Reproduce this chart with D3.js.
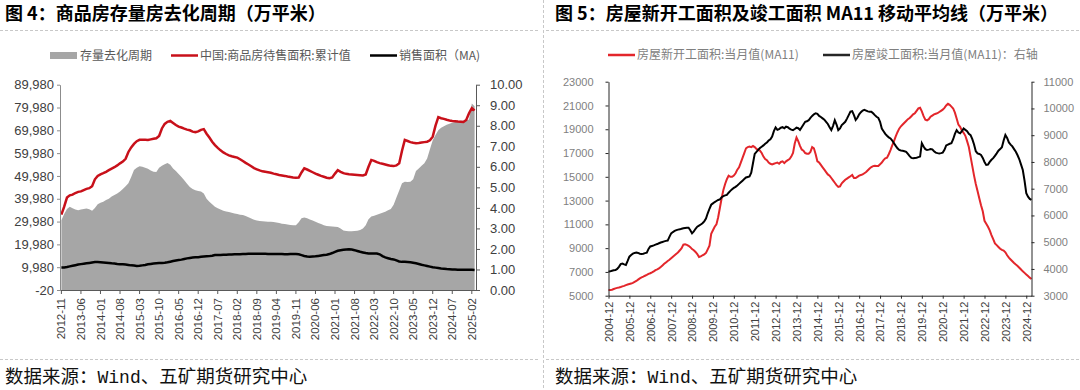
<!DOCTYPE html>
<html>
<head>
<meta charset="utf-8">
<script src="https://cdn.jsdelivr.net/npm/d3@7"></script>
<style>
    body { margin: 0; background: #fff; }
</style>
</head>
<body>
<div id="chart"></div>
<script>
'use strict';

// ---- 图4 data (monthly, from 2012-11) ----
var stockStart = '2012-11';
var stockTicks = ['2012-11', '2013-06', '2014-01', '2014-08', '2015-03', '2015-10', '2016-05', '2016-12',
    '2017-07', '2018-02', '2018-09', '2019-04', '2019-11', '2020-06', '2021-01', '2021-08', '2022-03',
    '2022-10', '2023-05', '2023-12', '2024-07', '2025-02'];
var stockLeftTicks = [-20, 9980, 19980, 29980, 39980, 49980, 59980, 69980, 79980, 89980];
var stockRightTicks = [0, 1, 2, 3, 4, 5, 6, 7, 8, 9, 10];

// 中国:商品房待售面积:累计值 (left axis)
var inventory = [
    33000, 36500,
    40500, 41500, 41800, 42500, 43000, 43200, 43800, 44300, 44600, 45500, 48500, 50000,
    50700, 51200, 51800, 52500, 53200, 53800, 54600, 55500, 56300, 57500, 60500, 62500,
    64000, 65200, 65800, 65800, 65800, 65700, 66000, 66300, 66500, 67500, 70800, 72800,
    73700, 74100, 73200, 72300, 71600, 71200, 70700, 70300, 70000, 69400, 69200, 69500,
    70200, 70500, 68500, 66800, 65000, 63500, 62300, 61200, 60300, 59600, 59000, 58600,
    58300, 58000, 57300, 56500, 55700, 55000, 54200, 53400, 52900, 52400, 52000, 51800,
    51600, 51400, 51000, 50700, 50400, 50200, 50000, 49700, 49500, 49300, 49200, 49300,
    51500, 53300, 52800, 52200, 51600, 51000, 50500, 50000, 49600, 49200, 49000, 49300,
    51000, 52500, 51800, 51200, 50900, 50700, 50600, 50500, 50400, 50300, 50200, 50600,
    54000, 57000, 56600, 56000, 55600, 55300, 55000, 54700, 54400, 54300, 54600, 55500,
    61000, 65800, 65300, 64800, 64500, 64300, 64400, 64600, 64800, 65000, 65600, 67200,
    72000, 75800, 75300, 75000, 74600, 74300, 74100, 74000, 73800, 73700, 73600, 74500,
    77500, 79700, 78700
];

// 存量去化周期 (right axis, area)
var cycle = [
    3.40, 3.70,
    3.95, 4.05, 3.98, 3.92, 3.89, 3.92, 3.95, 3.97, 3.93, 3.86, 4.00, 4.18,
    4.25, 4.30, 4.38, 4.45, 4.55, 4.63, 4.70, 4.80, 4.92, 5.05, 5.20, 5.50,
    5.85, 5.95, 6.03, 6.00, 5.95, 5.90, 5.82, 5.76, 5.75, 5.95, 6.05, 6.12,
    6.19, 6.10, 5.92, 5.80, 5.65, 5.50, 5.35, 5.18, 5.02, 4.92, 4.86, 4.82,
    4.80, 4.70, 4.45, 4.30, 4.18, 4.06, 3.98, 3.92, 3.86, 3.82, 3.80, 3.76,
    3.73, 3.70, 3.67, 3.65, 3.60, 3.54, 3.48, 3.42, 3.38, 3.36, 3.35, 3.34,
    3.33, 3.32, 3.31, 3.29, 3.26, 3.23, 3.21, 3.19, 3.17, 3.16, 3.16, 3.30,
    3.50, 3.53, 3.49, 3.44, 3.38, 3.32, 3.26, 3.21, 3.16, 3.12, 3.10, 3.09,
    3.08, 3.07, 3.00, 2.90, 2.87, 2.86, 2.86, 2.87, 2.88, 2.92, 3.00, 3.15,
    3.45, 3.58, 3.62, 3.66, 3.72, 3.76, 3.81, 3.88, 3.95, 4.15, 4.50, 4.85,
    5.20, 5.27, 5.26, 5.27, 5.40, 5.80, 5.92, 6.05, 6.18, 6.40, 6.85, 7.29,
    7.55, 7.78, 7.90, 7.98, 8.05, 8.10, 8.15, 8.18, 8.22, 8.24, 8.25, 8.26,
    8.30, 9.08, 8.95
];

// 销售面积（MA) (right axis)
var salesMA = [
    1.10, 1.10,
    1.12, 1.15, 1.18, 1.21, 1.24, 1.26, 1.28, 1.30, 1.32, 1.34, 1.36, 1.36,
    1.35, 1.34, 1.33, 1.32, 1.30, 1.29, 1.27, 1.26, 1.25, 1.24, 1.22, 1.20,
    1.19, 1.17, 1.18, 1.20, 1.22, 1.25, 1.27, 1.29, 1.30, 1.31, 1.32, 1.33,
    1.35, 1.38, 1.41, 1.44, 1.46, 1.48, 1.51, 1.54, 1.56, 1.58, 1.59, 1.60,
    1.62, 1.63, 1.64, 1.65, 1.67, 1.70, 1.71, 1.71, 1.72, 1.72, 1.73, 1.73,
    1.74, 1.74, 1.74, 1.75, 1.75, 1.76, 1.77, 1.77, 1.77, 1.76, 1.76, 1.76,
    1.75, 1.75, 1.75, 1.75, 1.75, 1.75, 1.74, 1.74, 1.75, 1.75, 1.75, 1.74,
    1.70, 1.66, 1.63, 1.62, 1.63, 1.64, 1.66, 1.68, 1.70, 1.72, 1.75, 1.80,
    1.86, 1.91, 1.94, 1.96, 1.97, 1.98, 1.97, 1.94, 1.90, 1.86, 1.83, 1.80,
    1.78, 1.78, 1.78, 1.78, 1.74, 1.65, 1.59, 1.55, 1.51, 1.49, 1.44, 1.39,
    1.37, 1.37, 1.36, 1.35, 1.33, 1.30, 1.27, 1.23, 1.20, 1.17, 1.14, 1.11,
    1.09, 1.07, 1.05, 1.04, 1.02, 1.01, 1.00, 1.00, 0.99, 0.99, 0.99, 0.99,
    0.99, 0.99, 0.98
];

// ---- 图5 data (monthly, from 2004-12) ----
var buildStart = '2004-12';
var buildTicks = ['2004-12', '2005-12', '2006-12', '2007-12', '2008-12', '2009-12', '2010-12', '2011-12',
    '2012-12', '2013-12', '2014-12', '2015-12', '2016-12', '2017-12', '2018-12', '2019-12', '2020-12',
    '2021-12', '2022-12', '2023-12', '2024-12'];
var buildLeftTicks = [5000, 7000, 9000, 11000, 13000, 15000, 17000, 19000, 21000, 23000];
var buildRightTicks = [3000, 4000, 5000, 6000, 7000, 8000, 9000, 10000, 11000];

// 房屋新开工面积:当月值(MA11) (left axis)
var newStarts = [
    5480,
    5470, 5500, 5560, 5620, 5660, 5690, 5730, 5780, 5830, 5890, 5940, 5980,
    6020, 6080, 6160, 6240, 6350, 6460, 6540, 6600, 6680, 6750, 6830, 6890,
    6960, 7050, 7150, 7220, 7300, 7420, 7550, 7680, 7800, 7920, 8020, 8150,
    8280, 8400, 8520, 8660, 8820, 9000, 9300, 9320, 9280, 9200, 9080, 8920,
    8820, 8680, 8500, 8250, 8300, 8400, 8480, 8600, 8900, 9200, 10200, 10500,
    10800, 11000, 11600, 12400, 13200, 13900, 14400, 14800, 15100, 15000, 15000, 15100,
    15300, 15600, 15800, 16200, 16600, 17000, 17400, 17500, 17550, 17500, 17600, 17500,
    17350, 17250, 17200, 17000, 16700, 16500, 16400, 16200, 16100, 16050, 16100, 16150,
    16200, 16100, 16250, 16300, 16150, 16300, 16400, 16500, 16700, 17000, 17800, 18300,
    18000, 17600, 17300, 17200, 17000, 16950, 16950, 17100, 17500, 17400, 16900, 16300,
    16200, 16000, 15800, 15600, 15400, 15200, 15100, 14900, 14700, 14500, 14300, 14150,
    14200, 14450, 14600, 14750, 14850, 14950, 15050, 15150, 14900, 14900, 15000, 15100,
    15150, 15200, 15300, 15400, 15550, 15700, 15820, 15900, 15920, 15900, 15910, 16050,
    16200, 16400, 16550, 16600, 16900, 17250, 17650, 18000, 18400, 18750, 19050, 19250,
    19400, 19550, 19700, 19850, 19950, 20100, 20250, 20350, 20550, 20750, 20800, 20500,
    20100, 19800, 19750, 19850, 20050, 20150, 20250, 20300, 20350, 20450, 20550, 20650,
    20800, 21000, 21150, 21050, 20900, 20750, 20400, 19900, 19400, 19200, 18900, 18700,
    18450, 18000, 17500, 16700, 15900, 15100, 14400, 13800, 13200, 12600, 12100, 11300,
    11050, 10800, 10500, 10100, 9750, 9400, 9250, 9100, 8950, 8850, 8800, 8650,
    8400, 8200, 8050, 7900, 7750, 7620, 7500, 7350, 7200, 7050, 6920, 6780,
    6650, 6520, 6400
];

// 房屋竣工面积:当月值(MA11) (right axis)
var completions = [
    3900,
    3910, 3930, 3950, 3960, 4000, 4080, 4180, 4200, 4170, 4150, 4300, 4460,
    4520, 4570, 4600, 4610, 4600, 4570, 4560, 4570, 4590, 4610, 4750, 4840,
    4860, 4880, 4910, 4930, 4960, 4990, 5010, 5030, 5050, 5060, 5200, 5330,
    5380, 5420, 5450, 5470, 5480, 5500, 5520, 5530, 5540, 5540, 5450, 5330,
    5400, 5500, 5580, 5620, 5660, 5710, 5780, 5880, 6080, 6250, 6400, 6450,
    6500, 6540, 6580, 6600, 6680, 6720, 6750, 6770, 6850, 6920, 6980, 7030,
    7070, 7120, 7180, 7240, 7300, 7360, 7420, 7440, 7460, 7600, 7950, 8300,
    8380, 8450, 8520, 8570, 8620, 8680, 8730, 8800, 8850, 8950, 9150, 9290,
    9200, 9230, 9280, 9300, 9260, 9320, 9300, 9240, 9210, 9190, 9230, 9280,
    9260, 9200, 9300, 9400, 9500, 9520, 9560, 9650, 9720, 9780, 9820, 9800,
    9720, 9680, 9630, 9580, 9500, 9420, 9300, 9190, 9350, 9560, 9400, 9190,
    9250, 9380, 9440, 9500, 9620, 9750, 9880, 9900, 9750, 9570, 9650, 9780,
    9860, 9920, 9950, 9920, 9890, 9880, 9880, 9820, 9750, 9690, 9650, 9500,
    9250, 9150, 9050, 8980, 8920, 8880, 8800, 8700, 8600, 8510, 8450, 8430,
    8420, 8400, 8380, 8300, 8220, 8150, 8140, 8150, 8160, 8180, 8200, 8700,
    8580, 8480, 8450, 8460, 8480, 8470, 8400, 8350, 8330, 8320, 8330, 8350,
    8450, 8620, 8650, 8680, 8700, 8850, 9050, 9190, 9100, 9070, 9150, 9250,
    9200, 9150, 9050, 9000, 8850, 8650, 8400, 8320, 8300, 8260, 8150, 8000,
    7890, 7900, 8000, 8080, 8140, 8230, 8320, 8420, 8480, 8550, 8800, 9010,
    8900, 8730, 8650, 8580, 8480, 8380, 8250, 8100, 7900, 7700, 7300, 6830,
    6700, 6620, 6580
];

var cjk = "'Noto Sans CJK SC', sans-serif";
var num = "'Liberation Sans', Arial, sans-serif";

var svg = d3.select('#chart').append('svg')
    .attr('width', 1080)
    .attr('height', 390)
    .style('font-family', num);

function monthSeq(start, n) {
    var t0 = d3.timeParse('%Y-%m')(start);
    var fmt = d3.timeFormat('%Y-%m');
    return d3.range(n).map(function (i) {
        return fmt(d3.timeMonth.offset(t0, i));
    });
}

function dashed(x1, y1, x2, y2) {
    svg.append('line')
        .attr('x1', x1).attr('y1', y1).attr('x2', x2).attr('y2', y2)
        .attr('stroke', '#c8c8c8')
        .attr('stroke-width', 1)
        .attr('stroke-dasharray', '3,2');
}

function styleAxis(g, lineColor, textColor, fontSize) {
    g.attr('font-family', null).attr('font-size', null);
    g.select('.domain').attr('stroke', lineColor);
    g.selectAll('.tick line').attr('stroke', lineColor);
    g.selectAll('.tick text').attr('fill', textColor).style('font-size', fontSize + 'px');
}

// frame
dashed(0, 30.5, 538, 30.5);
dashed(546, 30.5, 1080, 30.5);
dashed(0, 359.5, 538, 359.5);
dashed(546, 359.5, 1080, 359.5);
dashed(543.5, 0, 543.5, 390);

// titles and source
svg.append('text').attr('x', 5).attr('y', 20)
    .style('font-family', cjk).style('font-weight', 700).style('font-size', '18px')
    .text('图 4：商品房存量房去化周期（万平米）');
svg.append('text').attr('x', 555).attr('y', 20)
    .style('font-family', cjk).style('font-weight', 700).style('font-size', '18px')
    .text('图 5：房屋新开工面积及竣工面积 MA11 移动平均线（万平米）');

[5, 555].forEach(function (x0) {
    var t = svg.append('text').attr('x', x0).attr('y', 383)
        .style('font-family', cjk).style('font-size', '18.5px').attr('fill', '#111');
    t.append('tspan').text('数据来源：');
    t.append('tspan').style('font-family', "'Liberation Mono', monospace").style('font-size', '18px').text('Wind');
    t.append('tspan').text('、五矿期货研究中心');
});

drawStock();
drawBuild();

function drawStock() {
    var months = monthSeq(stockStart, inventory.length);
    var rows = months.map(function (m, i) {
        return {m: m, inv: inventory[i], cyc: cycle[i], sales: salesMA[i]};
    });

    var x = d3.scaleBand().domain(months).range([60, 476]).padding(0);
    var yL = d3.scaleLinear().domain([-20, 89980]).range([290, 84.7]);
    var yR = d3.scaleLinear().domain([0, 10]).range([290, 84.7]);
    var cx = function (d) { return x(d.m) + x.bandwidth() / 2; };

    svg.append('path')
        .datum(rows)
        .attr('fill', '#a6a6a6')
        .attr('d', d3.area().x(cx).y0(yR(0)).y1(function (d) { return yR(d.cyc); }));

    svg.append('path')
        .datum(rows)
        .attr('fill', 'none')
        .attr('stroke', '#000')
        .attr('stroke-width', 2.5)
        .attr('d', d3.line().x(cx).y(function (d) { return yR(d.sales); }));

    svg.append('path')
        .datum(rows)
        .attr('fill', 'none')
        .attr('stroke', '#c8101a')
        .attr('stroke-width', 2.5)
        .attr('d', d3.line().x(cx).y(function (d) { return yL(d.inv); }));

    var gl = svg.append('g').attr('transform', 'translate(60,0)')
        .call(d3.axisLeft(yL).tickValues(stockLeftTicks).tickSize(3).tickSizeOuter(0).tickPadding(3)
            .tickFormat(function (d) { return d3.format(',')(d).replace('\u2212', '-'); }));
    styleAxis(gl, '#8c8c8c', '#404040', 13);

    var gr = svg.append('g').attr('transform', 'translate(476,0)')
        .call(d3.axisRight(yR).tickValues(stockRightTicks).tickSize(4).tickSizeOuter(0).tickPadding(10)
            .tickFormat(d3.format('.2f')));
    styleAxis(gr, '#595959', '#404040', 13);

    var gx = svg.append('g').attr('transform', 'translate(0,290)')
        .call(d3.axisBottom(x).tickValues(stockTicks).tickSize(4).tickSizeOuter(0));
    styleAxis(gx, '#595959', '#404040', 11.5);
    gx.selectAll('.tick text')
        .attr('transform', 'rotate(-90)')
        .attr('text-anchor', 'end')
        .attr('x', -8).attr('y', 0).attr('dy', '0.35em');

    // legend
    var lg = svg.append('g').style('font-family', cjk).style('font-size', '12px').attr('fill', '#595959');
    lg.append('rect').attr('x', 50).attr('y', 52).attr('width', 27).attr('height', 7).attr('fill', '#a6a6a6');
    lg.append('text').attr('x', 80).attr('y', 59.5).text('存量去化周期');
    lg.append('line').attr('x1', 171).attr('x2', 198).attr('y1', 55.5).attr('y2', 55.5)
        .attr('stroke', '#c8101a').attr('stroke-width', 2.5);
    lg.append('text').attr('x', 200).attr('y', 59.5).text('中国:商品房待售面积:累计值');
    lg.append('line').attr('x1', 370).attr('x2', 397).attr('y1', 55.5).attr('y2', 55.5)
        .attr('stroke', '#000').attr('stroke-width', 2.5);
    lg.append('text').attr('x', 399).attr('y', 59.5).text('销售面积（MA)');
}

function drawBuild() {
    var months = monthSeq(buildStart, newStarts.length);
    var rows = months.map(function (m, i) {
        return {m: m, starts: newStarts[i], done: completions[i]};
    });

    var x = d3.scalePoint().domain(months).range([608.5, 1031.5]);
    var yL = d3.scaleLinear().domain([5000, 23000]).range([295.7, 81.7]);
    var yR = d3.scaleLinear().domain([3000, 11000]).range([295.7, 81.7]);
    var px = function (d) { return x(d.m); };

    svg.append('path')
        .datum(rows)
        .attr('fill', 'none')
        .attr('stroke', '#e3262b')
        .attr('stroke-width', 2)
        .attr('d', d3.line().x(px).y(function (d) { return yL(d.starts); }));

    svg.append('path')
        .datum(rows)
        .attr('fill', 'none')
        .attr('stroke', '#000')
        .attr('stroke-width', 2)
        .attr('d', d3.line().x(px).y(function (d) { return yR(d.done); }));

    var gl = svg.append('g').attr('transform', 'translate(608.5,0)')
        .call(d3.axisLeft(yL).tickValues(buildLeftTicks).tickSize(3).tickSizeOuter(0).tickPadding(12)
            .tickFormat(d3.format('d')));
    styleAxis(gl, '#262626', '#7f7f7f', 11);

    var gr = svg.append('g').attr('transform', 'translate(1031.5,0)')
        .call(d3.axisRight(yR).tickValues(buildRightTicks).tickSize(3).tickSizeOuter(0).tickPadding(9)
            .tickFormat(d3.format('d')));
    styleAxis(gr, '#262626', '#7f7f7f', 11);

    var gx = svg.append('g').attr('transform', 'translate(0,295.7)')
        .call(d3.axisBottom(x).tickValues(buildTicks).tickSize(3).tickSizeOuter(0));
    styleAxis(gx, '#262626', '#404040', 11);
    gx.selectAll('.tick text')
        .attr('transform', 'rotate(-90)')
        .attr('text-anchor', 'end')
        .attr('x', -6).attr('y', 0).attr('dy', '0.35em');

    var lg = svg.append('g').style('font-family', cjk).style('font-size', '12px').attr('fill', '#7f7f7f');
    lg.append('line').attr('x1', 608).attr('x2', 635).attr('y1', 55).attr('y2', 55)
        .attr('stroke', '#e3262b').attr('stroke-width', 2.5);
    lg.append('text').attr('x', 637).attr('y', 59).text('房屋新开工面积:当月值(MA11)');
    lg.append('line').attr('x1', 823).attr('x2', 850).attr('y1', 55).attr('y2', 55)
        .attr('stroke', '#262626').attr('stroke-width', 2.5);
    lg.append('text').attr('x', 852).attr('y', 59).text('房屋竣工面积:当月值(MA11)：右轴');
}
</script>
</body>
</html>
